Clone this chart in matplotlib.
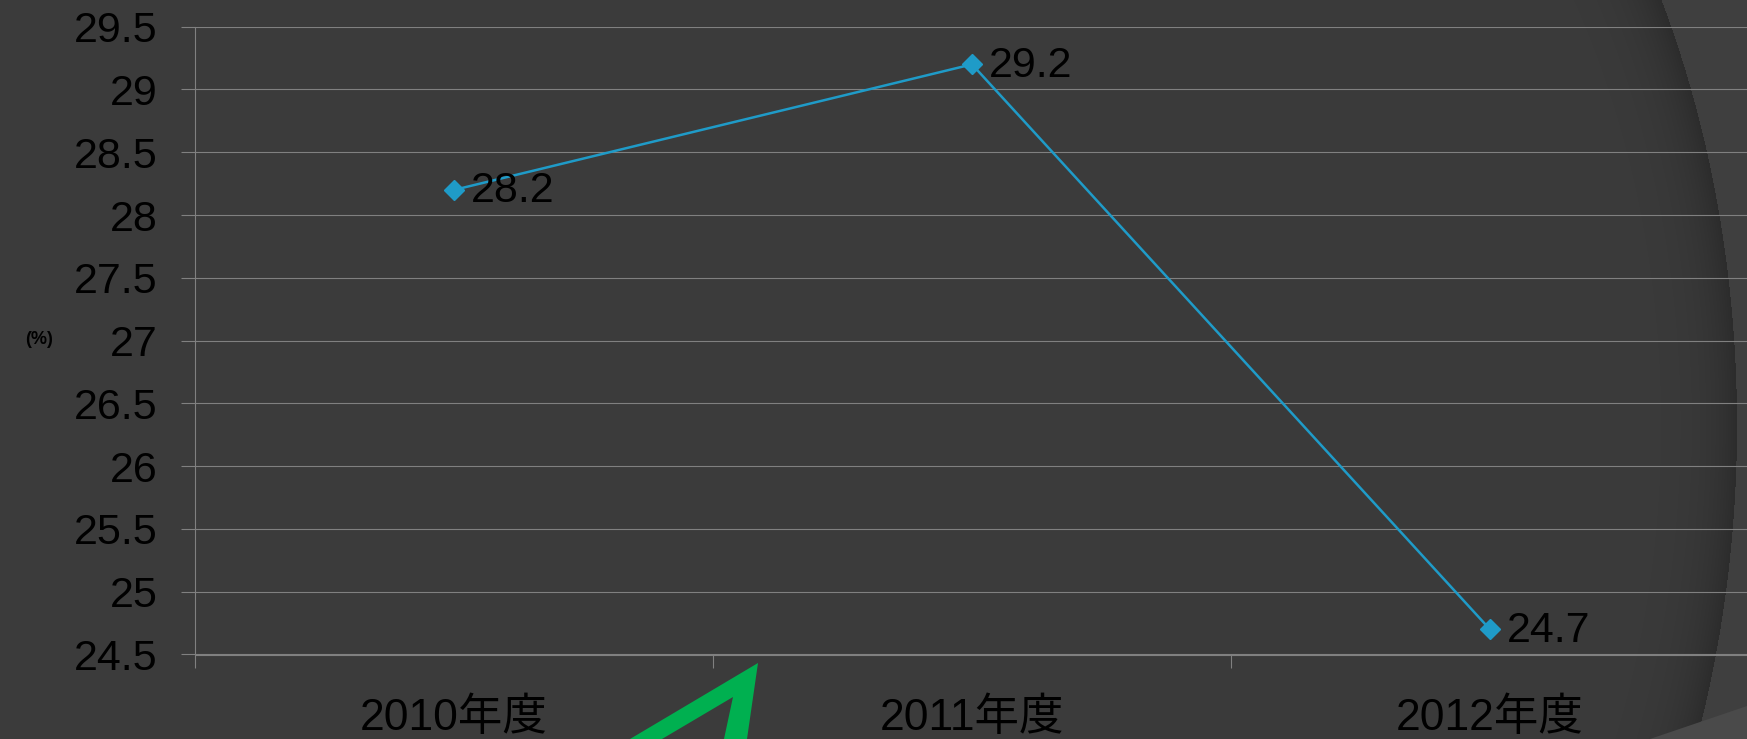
import matplotlib
matplotlib.use('agg')
import matplotlib.pyplot as plt
from matplotlib.patches import Polygon
import numpy as np

# Chart data
categories = ['2010年度', '2011年度', '2012年度']
values = [28.2, 29.2, 24.7]
y_ticks = [24.5, 25, 25.5, 26, 26.5, 27, 27.5, 28, 28.5, 29, 29.5]
y_unit = '(%)'

# Style
W, H = 1747, 739
bg = '#3b3b3b'
line_color = '#1f9bc8'
grid_color = '#808080'
text_color = '#000000'
font_list = ['Liberation Sans', 'Noto Sans CJK JP']
plt.rcParams['font.family'] = font_list

fig = plt.figure(figsize=(W / 100, H / 100), dpi=100)
fig.patch.set_facecolor(bg)

# Background decoration (slide arc with shadow + green arrow), pixel coords
bg_ax = fig.add_axes([0, 0, 1, 1], zorder=0)
bg_ax.axis('off')

xx, yy = np.meshgrid(np.arange(W) + 0.5, np.arange(H) + 0.5)
cx, cy, a, b = 1100.0, 425.0, 637.0, 900.0
r = np.sqrt(((xx - cx) / a) ** 2 + ((yy - cy) / b) ** 2)
base = np.full(r.shape, 59.0)
right_side = xx > cx
inside = (r < 1) & right_side
# darker shadow just inside the arc edge (right side only)
dist = (1 - r) * a
base[inside] -= 15 * np.exp(-np.clip(dist[inside], 0, None) / 28.0)
base[(r >= 1) & right_side] = 63.0
img = np.dstack([base, base, base]) / 255.0
bg_ax.imshow(img, extent=(0, W, H, 0), aspect='auto', interpolation='bilinear')
bg_ax.add_patch(Polygon([(1650, 739), (1747, 706), (1747, 739)], closed=True,
                        facecolor='#4a4a4a', edgecolor='none'))
bg_ax.add_patch(Polygon([(758, 663), (747, 739), (724, 739), (733, 697),
                         (662, 739), (630, 739)], closed=True,
                        facecolor='#00b050', edgecolor='none'))
bg_ax.set_xlim(0, W)
bg_ax.set_ylim(H, 0)

# Main chart
left = 195 / W
right = 1749 / W
top = 1 - 26.7 / H
bottom = 1 - 654.5 / H
ax = fig.add_axes([left, bottom, right - left, top - bottom], zorder=2)
ax.set_facecolor('none')

x = np.arange(len(categories))
ax.plot(x, values, color=line_color, linewidth=1.8, marker='D',
        markersize=10.5, markeredgecolor=line_color, zorder=3)

for xi, v in zip(x, values):
    ax.annotate(str(v), (xi, v), xytext=(12, -1), textcoords='offset points',
                ha='left', va='center', fontsize=31, color=text_color,
                family=font_list, zorder=4)

ax.set_xlim(-0.5, len(categories) - 0.5)
ax.set_ylim(24.5, 29.5)
ax.set_yticks(y_ticks)
ax.set_yticklabels([('%g' % t) for t in y_ticks])
ax.yaxis.grid(True, color=grid_color, linewidth=0.8)
ax.set_axisbelow(True)

ax.set_xticks(x)
ax.set_xticklabels(categories)
ax.set_xticks(np.arange(len(categories) + 1) - 0.5, minor=True)
ax.tick_params(axis='x', which='major', length=0, pad=31, labelsize=32,
               labelcolor=text_color)
ax.tick_params(axis='x', which='minor', length=9.5, width=0.8,
               color=grid_color, direction='out')
ax.tick_params(axis='y', length=10, width=0.8, color=grid_color,
               direction='out', pad=17, labelsize=31, labelcolor=text_color)

for side in ['top', 'right']:
    ax.spines[side].set_visible(False)
for side in ['left', 'bottom']:
    ax.spines[side].set_color(grid_color)
    ax.spines[side].set_linewidth(0.8)

fig.text(39 / W, 1 - 340 / H, y_unit, ha='center', va='center',
         fontsize=13, color=text_color, fontweight='bold', family=font_list)

plt.savefig('out.png', dpi=100, facecolor=bg)
plt.close()
